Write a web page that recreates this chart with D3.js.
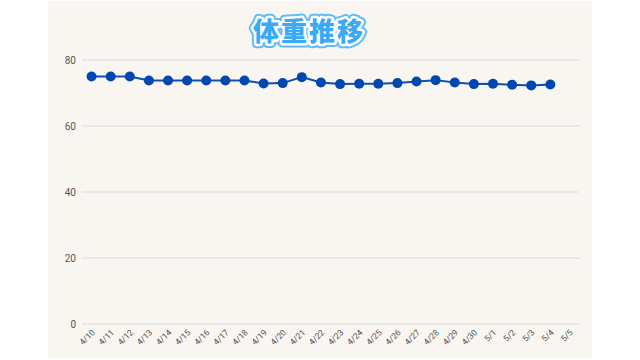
<!DOCTYPE html>
<html>
<head>
<meta charset="utf-8">
<script src="https://cdn.jsdelivr.net/npm/d3@7"></script>
<style>
  html, body { margin: 0; padding: 0; background: #fff; }
  svg { display: block; }
</style>
</head>
<body>
<div id="chart"></div>
<script>
// dates on the x axis (5/5 has no value yet)
var days = ["4/10","4/11","4/12","4/13","4/14","4/15","4/16","4/17","4/18","4/19",
            "4/20","4/21","4/22","4/23","4/24","4/25","4/26","4/27","4/28","4/29",
            "4/30","5/1","5/2","5/3","5/4","5/5"];
// weight (kg)
var weights = [75.0,75.0,75.0,73.8,73.8,73.8,73.8,73.8,73.8,72.9,
               73.0,74.8,73.2,72.7,72.8,72.8,73.0,73.5,73.9,73.2,
               72.7,72.8,72.5,72.3,72.6];
var yTicks = [0,20,40,60,80];
var title = "体重推移";

var W = 640, H = 360;
var margin = {top: 60, right: 61, bottom: 36, left: 82},
    width = W - margin.left - margin.right,
    height = H - margin.top - margin.bottom;

var svg = d3.select("#chart").append("svg")
    .attr("width", W)
    .attr("height", H);

// beige panel
svg.append("rect")
    .attr("x", 48).attr("y", 1)
    .attr("width", 544).attr("height", 357)
    .attr("fill", "#f9f6f2");

var g = svg.append("g")
    .attr("transform", "translate(" + margin.left + "," + margin.top + ")");

var x = d3.scaleBand()
    .domain(days)
    .range([0, width]);

var y = d3.scaleLinear()
    .domain([0, 80])
    .range([height, 0]);

// grid
g.append("g")
    .selectAll("line")
    .data(yTicks)
    .enter().append("line")
    .attr("x1", 0).attr("x2", width)
    .attr("y1", function(d) { return y(d); })
    .attr("y2", function(d) { return y(d); })
    .attr("stroke", "#dedbd7")
    .attr("stroke-width", 1);

// y axis labels
var yAxis = g.append("g")
    .call(d3.axisLeft(y).tickValues(yTicks).tickSize(0).tickPadding(6));
yAxis.select(".domain").remove();
yAxis.selectAll("text")
    .style("font-family", "Roboto, 'Liberation Sans', sans-serif")
    .style("font-size", "10px")
    .attr("fill", "#555");

// x axis labels
var xAxis = g.append("g")
    .attr("transform", "translate(0," + height + ")")
    .call(d3.axisBottom(x).tickSize(0));
xAxis.select(".domain").remove();
xAxis.selectAll("text")
    .style("font-family", "Roboto, 'Liberation Sans', sans-serif")
    .style("font-size", "8.5px")
    .attr("fill", "#555")
    .attr("text-anchor", "end")
    .attr("dy", null)
    .attr("y", 0)
    .attr("transform", "translate(4,9) rotate(-45)");

// line + dots
var pts = weights.map(function(v, i) { return {day: days[i], w: v}; });
var line = d3.line()
    .x(function(d) { return x(d.day) + x.bandwidth() / 2; })
    .y(function(d) { return y(d.w); });

g.append("path")
    .datum(pts)
    .attr("fill", "none")
    .attr("stroke", "#0b4fb3")
    .attr("stroke-width", 2)
    .attr("d", line);

g.selectAll(".dot")
    .data(pts)
    .enter().append("circle")
    .attr("class", "dot")
    .attr("cx", function(d) { return x(d.day) + x.bandwidth() / 2; })
    .attr("cy", function(d) { return y(d.w); })
    .attr("r", 5)
    .attr("fill", "#0047b0");

// title: blue outline, white ring, blue fill
var tx = 309, ty = 41;
var tfont = "'Noto Sans CJK JP', sans-serif";
[{s: "#5cbcf8", w: 9}, {s: "#ffffff", w: 5}].forEach(function(l) {
  svg.append("text")
      .attr("x", tx).attr("y", ty)
      .attr("text-anchor", "middle")
      .style("font-family", tfont)
      .style("font-weight", "900")
      .style("font-size", "26px")
      .style("letter-spacing", "2px")
      .attr("fill", l.s)
      .attr("stroke", l.s)
      .attr("stroke-width", l.w)
      .attr("stroke-linejoin", "round")
      .text(title);
});
svg.append("text")
    .attr("x", tx).attr("y", ty)
    .attr("text-anchor", "middle")
    .style("font-family", tfont)
    .style("font-weight", "900")
    .style("font-size", "26px")
    .style("letter-spacing", "2px")
    .attr("fill", "#3aa9f6")
    .text(title);
</script>
</body>
</html>
